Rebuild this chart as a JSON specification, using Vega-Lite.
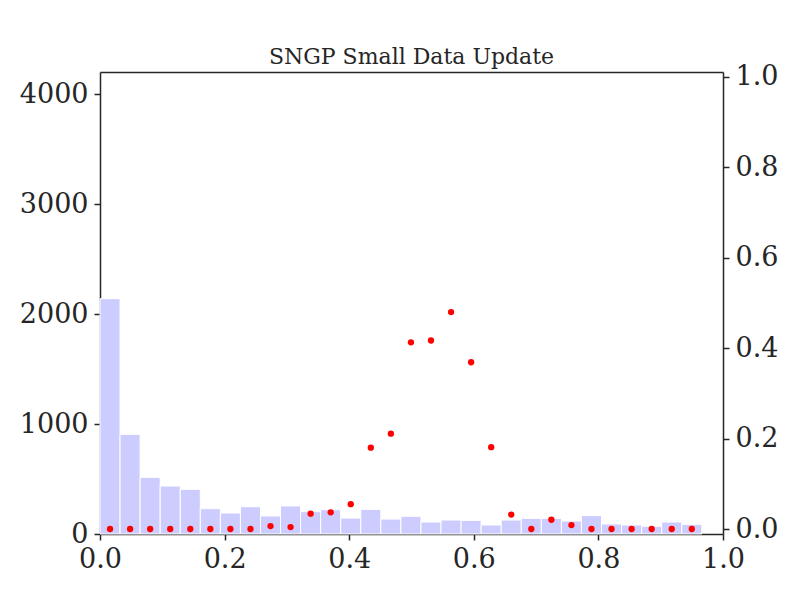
{
  "$schema": "https://vega.github.io/schema/vega-lite/v6.json",
  "autosize": "none",
  "width": 623,
  "height": 462,
  "padding": {"left": 100, "top": 72, "right": 77, "bottom": 66},
  "background": "white",
  "title": {
    "text": "SNGP Small Data Update",
    "font": "DejaVu Serif",
    "fontSize": 22,
    "fontWeight": "normal",
    "color": "#262626",
    "offset": -6
  },
  "config": {
    "view": {"stroke": null},
    "axis": {
      "labelFont": "DejaVu Serif",
      "labelFontSize": 27,
      "labelColor": "#262626",
      "domainColor": "#262626",
      "domainWidth": 1.5,
      "tickColor": "#262626",
      "tickWidth": 1.5,
      "tickSize": 6,
      "grid": false,
      "title": null,
      "labelPadding": 6,
      "labelFlush": false,
      "zindex": 1
    }
  },
  "data": {
    "values": [
      {"start": 0.0, "end": 0.0322, "mid": 0.0161, "count": 2139, "prob": 0.0},
      {"start": 0.0322, "end": 0.0644, "mid": 0.0483, "count": 906, "prob": 0.0},
      {"start": 0.0644, "end": 0.0966, "mid": 0.0805, "count": 515, "prob": 0.0},
      {"start": 0.0966, "end": 0.1288, "mid": 0.1127, "count": 436, "prob": 0.0},
      {"start": 0.1288, "end": 0.161, "mid": 0.1449, "count": 406, "prob": 0.0},
      {"start": 0.161, "end": 0.1932, "mid": 0.1771, "count": 230, "prob": 0.0},
      {"start": 0.1932, "end": 0.2254, "mid": 0.2093, "count": 191, "prob": 0.0},
      {"start": 0.2254, "end": 0.2576, "mid": 0.2415, "count": 248, "prob": 0.0},
      {"start": 0.2576, "end": 0.2898, "mid": 0.2737, "count": 164, "prob": 0.0066},
      {"start": 0.2898, "end": 0.322, "mid": 0.3059, "count": 255, "prob": 0.0044},
      {"start": 0.322, "end": 0.3542, "mid": 0.3381, "count": 203, "prob": 0.034},
      {"start": 0.3542, "end": 0.3864, "mid": 0.3703, "count": 221, "prob": 0.037},
      {"start": 0.3864, "end": 0.4186, "mid": 0.4025, "count": 145, "prob": 0.055},
      {"start": 0.4186, "end": 0.4508, "mid": 0.4347, "count": 224, "prob": 0.18},
      {"start": 0.4508, "end": 0.483, "mid": 0.4669, "count": 136, "prob": 0.211},
      {"start": 0.483, "end": 0.5152, "mid": 0.4991, "count": 161, "prob": 0.413},
      {"start": 0.5152, "end": 0.5474, "mid": 0.5313, "count": 109, "prob": 0.417},
      {"start": 0.5474, "end": 0.5796, "mid": 0.5635, "count": 127, "prob": 0.48},
      {"start": 0.5796, "end": 0.6118, "mid": 0.5957, "count": 124, "prob": 0.369},
      {"start": 0.6118, "end": 0.644, "mid": 0.6279, "count": 82, "prob": 0.181},
      {"start": 0.644, "end": 0.6762, "mid": 0.6601, "count": 127, "prob": 0.032},
      {"start": 0.6762, "end": 0.7084, "mid": 0.6923, "count": 142, "prob": 0.0},
      {"start": 0.7084, "end": 0.7406, "mid": 0.7245, "count": 142, "prob": 0.0206},
      {"start": 0.7406, "end": 0.7728, "mid": 0.7567, "count": 118, "prob": 0.0088},
      {"start": 0.7728, "end": 0.805, "mid": 0.7889, "count": 167, "prob": 0.0},
      {"start": 0.805, "end": 0.8372, "mid": 0.8211, "count": 91, "prob": 0.0},
      {"start": 0.8372, "end": 0.8694, "mid": 0.8533, "count": 82, "prob": 0.0},
      {"start": 0.8694, "end": 0.9016, "mid": 0.8855, "count": 70, "prob": 0.0},
      {"start": 0.9016, "end": 0.9338, "mid": 0.9177, "count": 109, "prob": 0.0},
      {"start": 0.9338, "end": 0.966, "mid": 0.9499, "count": 88, "prob": 0.0}
    ]
  },
  "layer": [
    {
      "mark": {"type": "bar", "color": "#ccccff", "stroke": "white", "strokeWidth": 1, "orient": "vertical"},
      "encoding": {
        "x": {
          "field": "start",
          "type": "quantitative",
          "scale": {"domain": [0, 1], "nice": false, "zero": false, "padding": 0},
          "axis": {"values": [0, 0.2, 0.4, 0.6, 0.8, 1.0], "format": ".1f", "orient": "bottom"}
        },
        "x2": {"field": "end"},
        "y": {
          "field": "count",
          "type": "quantitative",
          "scale": {"domain": [0, 4200], "nice": false, "padding": 0},
          "axis": {"values": [0, 1000, 2000, 3000, 4000], "format": "d", "orient": "left"}
        },
        "y2": {"datum": 0}
      }
    },
    {
      "mark": {"type": "circle", "color": "red", "opacity": 1, "size": 40},
      "encoding": {
        "x": {
          "field": "mid",
          "type": "quantitative",
          "axis": {"orient": "top", "labels": false, "ticks": false}
        },
        "y": {
          "field": "prob",
          "type": "quantitative",
          "scale": {"domain": [-0.011, 1.011], "nice": false, "zero": false, "padding": 0},
          "axis": {"values": [0, 0.2, 0.4, 0.6, 0.8, 1.0], "format": ".1f", "orient": "right"}
        }
      }
    }
  ],
  "resolve": {"scale": {"y": "independent"}, "axis": {"x": "independent"}}
}
